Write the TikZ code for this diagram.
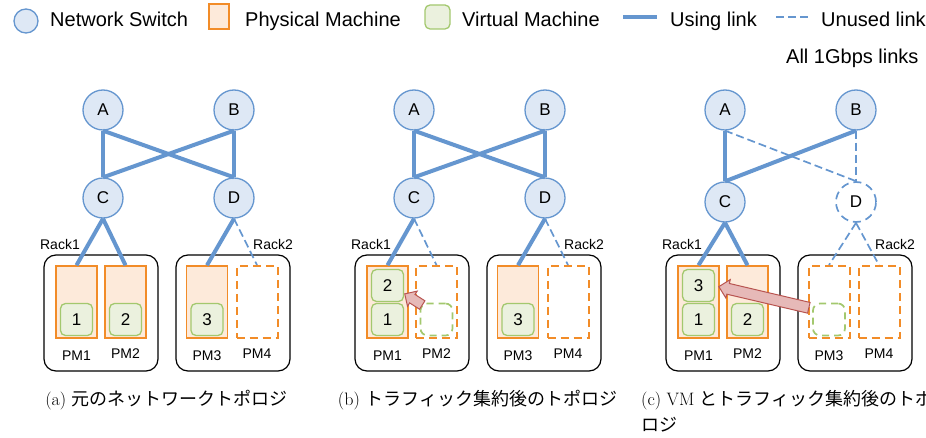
\documentclass[tikz,border=0pt]{standalone}
\usepackage{fontspec}
\newfontfamily\arialfont{Liberation Sans}
\newfontfamily\cjk{Noto Sans CJK JP}
\usepackage{tikz}
\usetikzlibrary{shapes.arrows,calc,positioning}

\definecolor{netblue}{RGB}{101,150,207}
\definecolor{swfill}{RGB}{222,232,245}
\definecolor{pmorange}{RGB}{242,140,40}
\definecolor{pmfill}{RGB}{253,234,218}
\definecolor{vmgreen}{RGB}{163,200,110}
\definecolor{vmfill}{RGB}{235,241,222}
\definecolor{migrred}{RGB}{184,84,80}
\definecolor{migrfill}{RGB}{230,185,184}

\begin{document}
\begin{tikzpicture}[x = 1pt, y = -1pt,
    sw/.style = {circle, draw = netblue, fill = swfill, line width = 1.3pt, minimum size = 40pt, inner sep = 0pt, font = \arialfont\fontsize{17}{20}\selectfont},
    swoff/.style = {sw, fill = none, line width = 1.7pt, dash pattern = on 8pt off 5pt},
    link/.style = {netblue, line width = 4pt},
    unused/.style = {netblue, line width = 1.7pt, dash pattern = on 8pt off 4pt},
    rack/.style = {draw, rounded corners = 12pt, line width = 1.2pt, minimum width = 114pt, minimum height = 116pt},
    pm/.style = {draw = pmorange, fill = pmfill, line width = 1.5pt, minimum width = 41pt, minimum height = 72pt, inner sep = 0pt},
    pmoff/.style = {pm, fill = none, line width = 2pt, dash pattern = on 8pt off 5pt},
    vm/.style = {draw = vmgreen, fill = vmfill, line width = 1.3pt, rounded corners = 5pt, minimum width = 32pt, minimum height = 32pt, inner sep = 0pt, font = \arialfont\fontsize{17}{20}\selectfont},
    vmoff/.style = {vm, fill = none, line width = 1.7pt, rounded corners = 7pt, dash pattern = on 7pt off 5pt},
    small/.style = {font = \arialfont\fontsize{14}{16}\selectfont, inner sep = 0pt},
    legend/.style = {font = \arialfont\fontsize{20}{24}\selectfont, inner sep = 0pt, anchor = base west},
    captext/.style = {font = \fontsize{18}{26}\selectfont, inner sep = 0pt},
    migr/.style = {single arrow, draw = migrred, fill = migrfill, line width = 1pt, single arrow head extend = 4pt, anchor = tip}]
    \useasboundingbox (0,0) rectangle (926,438);
    \clip (0,0) rectangle (926,438);

    \node at (26,21) [sw, minimum size = 24pt] (lsw) {};
    \node at (50,26.5) [legend] (lswt) {Network Switch};
    \node at (219,16.5) [pm, minimum width = 20pt, minimum height = 25pt] (lpm) {};
    \node at (245,26.5) [legend] (lpmt) {Physical Machine};
    \node at (437.5,17) [vm, minimum width = 25pt, minimum height = 24pt] (lvm) {};
    \node at (462,26.5) [legend] (lvmt) {Virtual Machine};
    \coordinate (lu1) at (623,17);
    \coordinate (lu2) at (657,17);
    \draw[link] (lu1) -- (lu2);
    \node at (670,26.5) [legend] (lut) {Using link};
    \coordinate (ln1) at (776,17);
    \coordinate (ln2) at (808,17);
    \draw[unused] (ln1) -- (ln2);
    \node at (821,26.5) [legend] (lnt) {Unused link};
    \node at (786,64) [legend] (all) {All 1Gbps links};

    \node at (103,110) [sw] (Aa) {A};
    \node at (234,110) [sw] (Ba) {B};
    \node at (103,198) [sw] (Ca) {C};
    \node at (234,198) [sw] (Da) {D};
    \node at (101,313) [rack] (k1a) {};
    \node at (233,313) [rack] (k2a) {};
    \node at (80,250) [small, anchor = base east] (r1a) {Rack1};
    \node at (253,250) [small, anchor = base west] (r2a) {Rack2};
    \node at (76.5,302) [pm] (p1a) {};
    \node at (125.5,302) [pm] (p2a) {};
    \node at (207,302) [pm] (p3a) {};
    \node at (257,302) [pmoff] (p4a) {};
    \node at (76.5,319.5) [vm] (v1a) {1};
    \node at (125.5,319.5) [vm] (v2a) {2};
    \node at (207,319.5) [vm] (v3a) {3};
    \node [small, below = 12pt of p1a] (t1a) {PM1};
    \node [small, below = 10pt of p2a] (t2a) {PM2};
    \node [small, below = 12pt of p3a] (t3a) {PM3};
    \node [small, below = 10pt of p4a] (t4a) {PM4};
    \draw[link] (Aa.south) -- (Ca.north);
    \draw[link] (Aa.south) -- (Da.north);
    \draw[link] (Ba.south) -- (Ca.north);
    \draw[link] (Ba.south) -- (Da.north);
    \draw[link] (Ca.south) -- (p1a.north);
    \draw[link] (Ca.south) -- (p2a.north);
    \draw[link] (Da.south) -- (p3a.north);
    \draw[unused] (Da.south) -- (p4a.north);

    \begin{scope}[xshift = 311pt]
    \node at (103,110) [sw] (Ab) {A};
    \node at (234,110) [sw] (Bb) {B};
    \node at (103,198) [sw] (Cb) {C};
    \node at (234,198) [sw] (Db) {D};
    \node at (101,313) [rack] (k1b) {};
    \node at (233,313) [rack] (k2b) {};
    \node at (80,250) [small, anchor = base east] (r1b) {Rack1};
    \node at (253,250) [small, anchor = base west] (r2b) {Rack2};
    \node at (76.5,302) [pm] (p1b) {};
    \node at (125.5,302) [pmoff] (p2b) {};
    \node at (207,302) [pm] (p3b) {};
    \node at (257,302) [pmoff] (p4b) {};
    \node at (76.5,285.5) [vm] (v2b) {2};
    \node at (76.5,319.5) [vm] (v1b) {1};
    \node at (125.5,319.5) [vmoff] (gb) {};
    \node at (207,319.5) [vm] (v3b) {3};
    \node [small, below = 12pt of p1b] (t1b) {PM1};
    \node [small, below = 10pt of p2b] (t2b) {PM2};
    \node [small, below = 12pt of p3b] (t3b) {PM3};
    \node [small, below = 10pt of p4b] (t4b) {PM4};
    \draw[link] (Ab.south) -- (Cb.north);
    \draw[link] (Ab.south) -- (Db.north);
    \draw[link] (Bb.south) -- (Cb.north);
    \draw[link] (Bb.south) -- (Db.north);
    \draw[link] (Cb.south) -- (p1b.north);
    \draw[unused] (Cb.south) -- (p2b.north);
    \draw[link] (Db.south) -- (p3b.north);
    \draw[unused] (Db.south) -- (p4b.north);
    \end{scope}
    \coordinate (tipb) at ($(v2b.east)+(0,8)$);
    \coordinate (tailb) at ($(gb.north west)+(2,2)$);
    \path let \p1 = ($(tipb)-(tailb)$), \n1 = {veclen(\x1,\y1)}, \n2 = {atan2(\y1,\x1)} in
        node at (tipb) [migr, inner sep = 4.5pt, minimum height = \n1, rotate = \n2] (mvb) {};

    \begin{scope}[xshift = 622pt]
    \node at (103,110) [sw] (Ac) {A};
    \node at (234,110) [sw] (Bc) {B};
    \node at (103,202) [sw] (Cc) {C};
    \node at (234,202) [swoff] (Dc) {D};
    \node at (101,313) [rack] (k1c) {};
    \node at (233,313) [rack] (k2c) {};
    \node at (80,250) [small, anchor = base east] (r1c) {Rack1};
    \node at (253,250) [small, anchor = base west] (r2c) {Rack2};
    \node at (76.5,302) [pm] (p1c) {};
    \node at (125.5,302) [pm] (p2c) {};
    \node at (207,302) [pmoff] (p3c) {};
    \node at (257,302) [pmoff] (p4c) {};
    \node at (76.5,285.5) [vm] (v3c) {3};
    \node at (76.5,319.5) [vm] (v1c) {1};
    \node at (125.5,319.5) [vm] (v2c) {2};
    \node at (207,319.5) [vmoff] (gc) {};
    \node [small, below = 12pt of p1c] (t1c) {PM1};
    \node [small, below = 10pt of p2c] (t2c) {PM2};
    \node [small, below = 12pt of p3c] (t3c) {PM3};
    \node [small, below = 10pt of p4c] (t4c) {PM4};
    \draw[link] (Ac.south) -- (Cc.north);
    \draw[unused] (Ac.south) -- (Dc.north);
    \draw[link] (Bc.south) -- (Cc.north);
    \draw[unused] (Bc.south) -- (Dc.north);
    \draw[link] (Cc.south) -- (p1c.north);
    \draw[link] (Cc.south) -- (p2c.north);
    \draw[unused] (Dc.south) -- (p3c.north);
    \draw[unused] (Dc.south) -- (p4c.north);
    \end{scope}
    \coordinate (tipc) at ($(v3c.east)+(3,1)$);
    \coordinate (tailc) at ($(gc.north west)+(-4,5)$);
    \path let \p1 = ($(tipc)-(tailc)$), \n1 = {veclen(\x1,\y1)}, \n2 = {atan2(\y1,\x1)} in
        node at (tipc) [migr, inner sep = 5pt, minimum height = \n1, rotate = \n2] (mvc) {};

    \node at (166.5,405) [captext, anchor = base] (capa) {(a) {\cjk 元のネットワークトポロジ}};
    \node at (477.5,405) [captext, anchor = base] (capb) {(b) {\cjk トラフィック集約後のトポロジ}};
    \node at (641,405) [captext, anchor = base west] (capc) {(c) VM {\cjk とトラフィック集約後のトポ}};
    \node at (641,431) [captext, anchor = base west] (capc2) {\cjk ロジ};
\end{tikzpicture}
\end{document}
